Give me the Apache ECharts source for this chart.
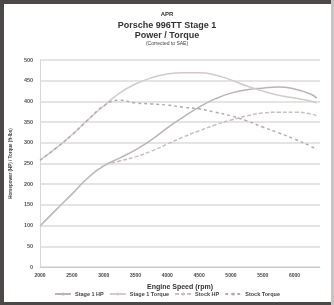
<!DOCTYPE html>
<html><head><meta charset="utf-8">
<script src="https://cdn.jsdelivr.net/npm/echarts@6/dist/echarts.min.js"></script>
<style>html,body{margin:0;padding:0;background:#fff}#c{width:334px;height:305px}</style>
</head><body><div id="c"></div>
<script>
const titleLines = ["APR", "Porsche 996TT Stage 1", "Power / Torque", "(Corrected to SAE)"];
const rpm = [2000, 2250, 2500, 2750, 3000, 3250, 3500, 3750, 4000, 4250, 4500, 4750, 5000, 5250, 5500, 5750, 6000, 6250, 6350];
const stage1Hp = [99, 138, 176, 215, 244, 263, 283, 307, 336, 362, 386, 406, 420, 428, 432, 435, 430, 418, 408];
const stage1Tq = [258, 287, 319, 355, 389, 420, 442, 457, 466, 469, 469, 464, 452, 437, 425, 415, 408, 401, 396];
const stockHp = [99, 138, 176, 215, 244, 256, 266, 280, 297, 314, 329, 343, 355, 365, 372, 374, 374, 370, 365];
const stockTq = [258, 287, 319, 355, 389, 403, 396, 394, 391, 386, 382, 374, 365, 353, 338, 324, 309, 292, 283];
const seriesNames = ["Stage 1 HP", "Stage 1 Torque", "Stock HP", "Stock Torque"];
const yTicks = {min: 0, max: 500, interval: 50};
const xTicks = {min: 2000, max: 6400, interval: 500};

const pair = a => rpm.map((r, i) => [r, a[i]]);
const chart = echarts.init(document.getElementById('c'));
const ff = 'Liberation Sans, Arial, sans-serif';
chart.setOption({
  animation: false,
  backgroundColor: '#fff',
  graphic: [
    {type: 'rect', shape: {x: 0, y: 0, width: 334, height: 4}, style: {fill: '#4d4848'}},
    {type: 'rect', shape: {x: 0, y: 0, width: 4, height: 305}, style: {fill: '#4d4848'}},
    {type: 'rect', shape: {x: 0, y: 302, width: 334, height: 3}, style: {fill: '#4d4848'}},
    {type: 'rect', shape: {x: 331, y: 0, width: 3, height: 305}, style: {fill: '#c8c4c4'}},
    {type: 'text', left: 'center', top: 11, style: {text: titleLines[0], font: 'bold 6px ' + ff, fill: '#333'}},
    {type: 'text', left: 'center', top: 21, style: {text: titleLines[1], font: 'bold 9px ' + ff, fill: '#333'}},
    {type: 'text', left: 'center', top: 31, style: {text: titleLines[2], font: 'bold 9px ' + ff, fill: '#333'}},
    {type: 'text', left: 'center', top: 41, style: {text: titleLines[3], font: '5px ' + ff, fill: '#444'}}
  ],
  legend: {
    bottom: 3, left: 'center', itemWidth: 16, itemHeight: 4, itemGap: 5,
    textStyle: {fontSize: 5.5, color: '#444', fontFamily: ff, fontWeight: 'bold', padding: [0, 0, 0, -1]},
    data: seriesNames
  },
  grid: {left: 40, right: 14, top: 60, bottom: 38},
  xAxis: {
    type: 'value', min: xTicks.min, max: xTicks.max, interval: xTicks.interval,
    name: 'Engine Speed (rpm)', nameLocation: 'middle', nameGap: 17,
    nameTextStyle: {fontSize: 7, fontWeight: 'bold', color: '#333', fontFamily: ff},
    axisLine: {lineStyle: {color: '#ccc'}}, axisTick: {show: false},
    axisLabel: {fontSize: 5, color: '#444', fontWeight: 'bold', fontFamily: ff, margin: 6,
      formatter: v => (v % 500 === 0 ? String(v) : '')},
    splitLine: {show: false}
  },
  yAxis: {
    type: 'value', min: yTicks.min, max: yTicks.max, interval: yTicks.interval,
    name: 'Horsepower (HP) / Torque (ft-lbs)', nameLocation: 'middle', nameGap: 26, nameRotate: 90,
    nameTextStyle: {fontSize: 4.5, fontWeight: 'bold', color: '#444', fontFamily: ff},
    axisLine: {show: true, lineStyle: {color: '#d8d8d8'}}, axisTick: {show: false},
    axisLabel: {fontSize: 5.5, color: '#555', fontWeight: 'bold', fontFamily: ff, margin: 7},
    splitLine: {lineStyle: {color: '#dedada', width: 1.5}}
  },
  series: [
    {name: seriesNames[0], type: 'line', data: pair(stage1Hp), smooth: true, symbol: 'none',
     lineStyle: {color: '#bdb3b5', width: 1.5}, itemStyle: {color: '#bdb3b5'}},
    {name: seriesNames[1], type: 'line', data: pair(stage1Tq), smooth: true, symbol: 'none',
     lineStyle: {color: '#d2cacb', width: 1.5}, itemStyle: {color: '#d2cacb'}},
    {name: seriesNames[2], type: 'line', data: pair(stockHp), smooth: true, symbol: 'none',
     lineStyle: {color: '#c8bfc1', width: 1.5, type: [4, 2]}, itemStyle: {color: '#c8bfc1'}},
    {name: seriesNames[3], type: 'line', data: pair(stockTq), smooth: true, symbol: 'none',
     lineStyle: {color: '#b5abad', width: 1.5, type: [3, 3]}, itemStyle: {color: '#b5abad'}}
  ]
});
</script></body></html>
